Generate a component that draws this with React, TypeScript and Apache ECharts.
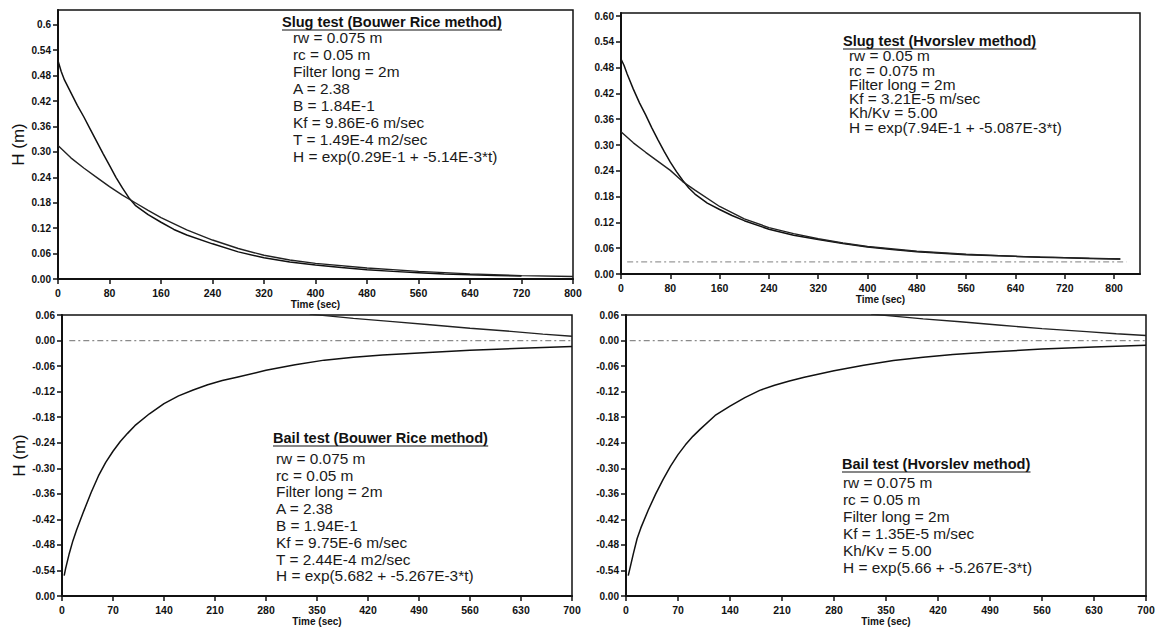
import React, { useEffect, useRef } from "react";
import * as echarts from "echarts";

// ---------- Data ----------
// Top-left: Slug test (Bouwer Rice)
const tlObsT = [0, 5, 10, 20, 30, 40, 50, 60, 70, 80, 90, 100, 110, 120, 140, 160, 180, 200, 240, 280, 320, 360, 400, 440, 480, 520, 560, 600, 640, 680, 720];
const tlObsH = [0.515, 0.49, 0.47, 0.44, 0.41, 0.383, 0.354, 0.325, 0.296, 0.268, 0.24, 0.215, 0.192, 0.174, 0.152, 0.134, 0.117, 0.104, 0.083, 0.064, 0.05, 0.04, 0.033, 0.027, 0.022, 0.018, 0.015, 0.012, 0.01, 0.008, 0.007];
const tlFitT = [0, 20, 40, 60, 80, 100, 120, 140, 160, 200, 240, 280, 320, 360, 400, 480, 560, 640, 720, 800];
const tlFitH = [0.315, 0.286, 0.262, 0.24, 0.218, 0.198, 0.18, 0.162, 0.145, 0.116, 0.092, 0.072, 0.056, 0.045, 0.037, 0.026, 0.018, 0.012, 0.008, 0.006];

// Top-right: Slug test (Hvorslev)
const trObsT = [0, 5, 10, 20, 30, 40, 50, 60, 70, 80, 90, 100, 110, 120, 140, 160, 180, 200, 240, 280, 320, 360, 400, 440, 480, 520, 560, 600, 640, 680, 720, 760, 810];
const trObsH = [0.5, 0.485, 0.465, 0.43, 0.398, 0.37, 0.34, 0.312, 0.285, 0.26, 0.238, 0.218, 0.2, 0.186, 0.165, 0.15, 0.136, 0.124, 0.104, 0.09, 0.08, 0.071, 0.063, 0.057, 0.052, 0.048, 0.045, 0.043, 0.041, 0.039, 0.038, 0.036, 0.035];
const trFitT = [0, 20, 40, 60, 80, 100, 110, 120, 160, 200, 240, 280, 320, 360, 400, 480, 560, 640, 720, 810];
const trFitH = [0.331, 0.305, 0.283, 0.262, 0.241, 0.215, 0.205, 0.195, 0.157, 0.128, 0.108, 0.094, 0.082, 0.072, 0.064, 0.053, 0.046, 0.041, 0.038, 0.035];
const trBaseT = [10, 820];
const trBaseH = [0.028, 0.028];

// Bottom-left: Bail test (Bouwer Rice)
const blObsT = [3, 5, 10, 15, 20, 30, 40, 50, 60, 70, 80, 90, 100, 120, 140, 160, 180, 200, 220, 240, 280, 320, 360, 400, 440, 490, 560, 630, 700];
const blObsH = [-0.552, -0.535, -0.5, -0.47, -0.445, -0.4, -0.357, -0.318, -0.286, -0.26, -0.237, -0.218, -0.2, -0.172, -0.148, -0.13, -0.116, -0.104, -0.094, -0.086, -0.07, -0.057, -0.046, -0.039, -0.034, -0.029, -0.023, -0.018, -0.014];
const blUpT = [340, 400, 450, 505, 560, 620, 660, 700];
const blUpH = [0.062, 0.052, 0.045, 0.037, 0.029, 0.021, 0.015, 0.01];
const blBaseT = [10, 700];
const blBaseH = [0, 0];

// Bottom-right: Bail test (Hvorslev)
const brObsT = [3, 6, 10, 15, 20, 30, 40, 50, 60, 70, 80, 90, 100, 120, 140, 160, 180, 200, 220, 240, 280, 320, 360, 400, 440, 490, 560, 630, 700];
const brObsH = [-0.552, -0.53, -0.5, -0.465, -0.44, -0.398, -0.36, -0.326, -0.295, -0.268, -0.245, -0.225, -0.208, -0.176, -0.154, -0.134, -0.117, -0.105, -0.095, -0.086, -0.071, -0.058, -0.047, -0.039, -0.033, -0.027, -0.02, -0.015, -0.011];
const brUpT = [330, 400, 450, 505, 560, 620, 660, 700];
const brUpH = [0.062, 0.051, 0.044, 0.036, 0.028, 0.021, 0.016, 0.012];
const brBaseT = [5, 700];
const brBaseH = [0, 0];

// Text blocks
const tlTitle = "Slug test (Bouwer Rice method)";
const tlLines = ["rw = 0.075 m", "rc = 0.05 m", "Filter long = 2m", "A = 2.38", "B = 1.84E-1", "Kf = 9.86E-6 m/sec", "T = 1.49E-4 m2/sec", "H = exp(0.29E-1 + -5.14E-3*t)"];
const trTitle = "Slug test (Hvorslev method)";
const trLines = ["rw = 0.05 m", "rc = 0.075 m", "Filter long = 2m", "Kf = 3.21E-5 m/sec", "Kh/Kv = 5.00", "H = exp(7.94E-1 + -5.087E-3*t)"];
const blTitle = "Bail test (Bouwer Rice method)";
const blLines = ["rw = 0.075 m", "rc = 0.05 m", "Filter long = 2m", "A = 2.38", "B = 1.94E-1", "Kf = 9.75E-6 m/sec", "T = 2.44E-4 m2/sec", "H = exp(5.682 + -5.267E-3*t)"];
const brTitle = "Bail test (Hvorslev method)";
const brLines = ["rw = 0.075 m", "rc = 0.05 m", "Filter long = 2m", "Kf = 1.35E-5 m/sec", "Kh/Kv = 5.00", "H = exp(5.66 + -5.267E-3*t)"];

const FONT = '"Liberation Sans", Arial, sans-serif';
const INK = "#111";

function zip(t: number[], h: number[]) {
  return t.map((v, i) => [v, h[i]]);
}

function measure(text: string, font: string) {
  const c = document.createElement("canvas");
  const ctx = c.getContext("2d");
  if (!ctx) return text.length * 7;
  ctx.font = font;
  return ctx.measureText(text).width;
}

function textBlock(title: string, lines: string[], tx: number, ty: number, lx: number, ly: number, dy: number) {
  const els: any[] = [];
  const sx = 1.04;
  const w = measure(title, `bold 14px ${FONT}`) * sx;
  els.push({
    type: "text", x: tx, y: ty, scaleX: sx,
    style: { text: title, fontSize: 14, fontWeight: "bold", fontFamily: FONT, fill: INK, verticalAlign: "middle" },
  });
  els.push({
    type: "line", shape: { x1: tx, y1: ty + 8, x2: tx + w, y2: ty + 8 },
    style: { stroke: INK, lineWidth: 1.2 },
  });
  lines.forEach((s, i) => {
    els.push({
      type: "text", x: lx, y: ly + i * dy, scaleX: 1.1,
      style: { text: s, fontSize: 14, fontFamily: FONT, fill: "#1a1a1a", verticalAlign: "middle" },
    });
  });
  return els;
}

export default function App() {
  const ref = useRef<HTMLDivElement>(null);
  useEffect(() => {
    if (!ref.current) return;
    const chart = echarts.init(ref.current, null, { renderer: "svg" });

    const grids = [
      { left: 58, top: 10, width: 515, height: 269 },
      { left: 621, top: 13, width: 519, height: 261 },
      { left: 62, top: 315, width: 510, height: 281 },
      { left: 626, top: 315, width: 520, height: 281 },
    ].map((g) => ({ ...g, show: true, borderColor: INK, borderWidth: 1.5, backgroundColor: "transparent" }));

    const xCfg = [
      { max: 800, interval: 80 },
      { max: 842, interval: 80 },
      { max: 700, interval: 70 },
      { max: 700, interval: 70 },
    ];
    const xAxis = xCfg.map((c, i) => ({
      type: "value", gridIndex: i, min: 0, max: c.max, interval: c.interval,
      name: "Time (sec)", nameLocation: "middle", nameGap: 20,
      nameTextStyle: { fontFamily: FONT, fontSize: 10, fontWeight: "bold", color: INK },
      axisLine: { show: true, onZero: false, lineStyle: { color: INK, width: 2 } },
      axisTick: { show: true, length: 5, lineStyle: { color: INK, width: 1.5 } },
      axisLabel: { margin: 8, fontFamily: FONT, fontSize: 10.5, fontWeight: "bold", color: INK, showMaxLabel: i === 1 ? false : true },
      splitLine: { show: false },
    }));

    const fmtTop = (v: number) => (Math.abs(v) < 1e-9 ? "0.00" : v.toFixed(2));
    const fmtBot = (v: number) => (Math.abs(v) < 1e-9 || Math.abs(v + 0.6) < 1e-9 ? "0.00" : v.toFixed(2));
    const yCfg = [
      { min: 0, max: 0.635, fmt: (v: number) => (Math.abs(v - 0.6) < 1e-9 ? "0.6" : fmtTop(v)), name: "H (m)", hideMax: true },
      { min: 0, max: 0.607, fmt: fmtTop, name: "", hideMax: true },
      { min: -0.6, max: 0.06, fmt: fmtBot, name: "H (m)", hideMax: false },
      { min: -0.6, max: 0.06, fmt: fmtBot, name: "", hideMax: false },
    ];
    const yAxis = yCfg.map((c, i) => ({
      type: "value", gridIndex: i, min: c.min, max: c.max, interval: 0.06,
      name: c.name, nameLocation: "middle", nameGap: 31, nameRotate: 90,
      nameTextStyle: { fontFamily: FONT, fontSize: 17, color: INK },
      axisLine: { show: true, onZero: false, lineStyle: { color: INK, width: 2 } },
      axisTick: { show: true, length: 5, lineStyle: { color: INK, width: 1.5 } },
      axisLabel: { margin: 7, fontFamily: FONT, fontSize: 10, fontWeight: "bold", color: INK, formatter: c.fmt, showMaxLabel: !c.hideMax },
      splitLine: { show: false },
    }));

    const line = (i: number, t: number[], h: number[], opts: any = {}) => ({
      type: "line", xAxisIndex: i, yAxisIndex: i, data: zip(t, h),
      showSymbol: false, symbol: "none", clip: true, silent: true,
      lineStyle: { color: INK, width: 1.5, ...opts },
    });

    const series = [
      line(0, tlObsT, tlObsH),
      line(0, tlFitT, tlFitH, { width: 1.4, color: "#222" }),
      line(1, trBaseT, trBaseH, { color: "#9a9a9a", width: 1.2, type: [6, 3, 2, 3] }),
      line(1, trObsT, trObsH),
      line(1, trFitT, trFitH, { width: 1.4, color: "#222" }),
      line(2, blBaseT, blBaseH, { color: "#8a8a8a", width: 1.2, type: [6, 3, 2, 3] }),
      line(2, blObsT, blObsH),
      line(2, blUpT, blUpH, { width: 1.4, color: "#222" }),
      line(3, brBaseT, brBaseH, { color: "#8a8a8a", width: 1.2, type: [6, 3, 2, 3] }),
      line(3, brObsT, brObsH),
      line(3, brUpT, brUpH, { width: 1.4, color: "#222" }),
    ];

    const graphic = [
      ...textBlock(tlTitle, tlLines, 282, 22, 293, 38.5, 16.9),
      ...textBlock(trTitle, trLines, 843, 41, 849, 56.5, 14.3),
      ...textBlock(blTitle, blLines, 273, 438, 276, 459, 16.8),
      ...textBlock(brTitle, brLines, 842, 464, 843, 483, 17),
    ];

    chart.setOption({
      animation: false,
      backgroundColor: "#ffffff",
      grid: grids,
      xAxis,
      yAxis,
      series,
      graphic,
    });
    return () => chart.dispose();
  }, []);

  return <div ref={ref} style={{ position: "absolute", left: 0, top: 0, width: 1160, height: 632 }} />;
}
